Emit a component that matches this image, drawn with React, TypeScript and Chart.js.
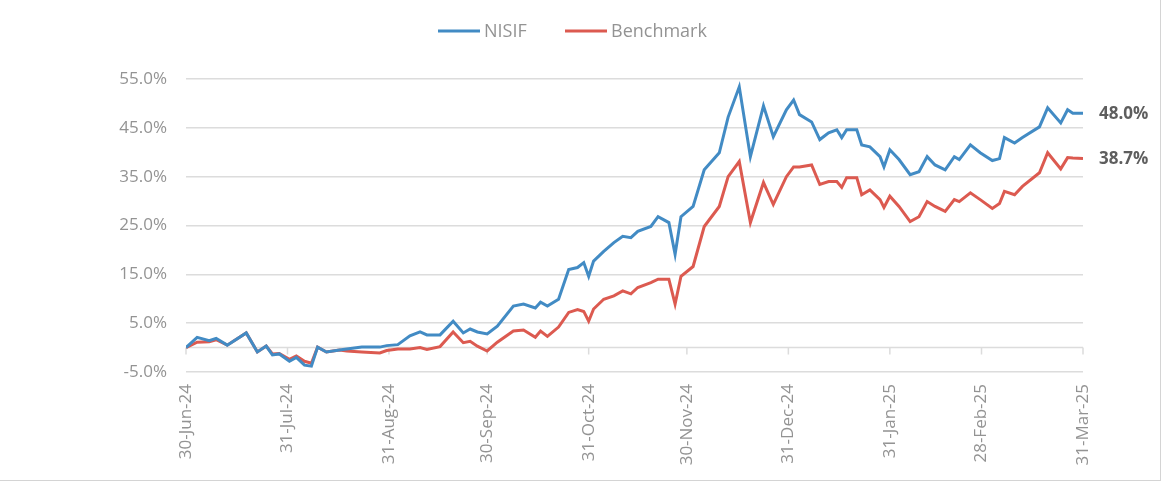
import React, { useEffect, useRef } from 'react';
import { Chart, registerables } from 'chart.js';

Chart.register(...registerables);

// ---- Data ----
const seriesNames = ['NISIF', 'Benchmark'];
const seriesColors = ['#428bc4', '#dc5a50'];

// x = days since 30-Jun-24
const tickDays = [0, 31, 62, 92, 123, 153, 184, 215, 243, 274];
const tickLabels = ['30-Jun-24', '31-Jul-24', '31-Aug-24', '30-Sep-24', '31-Oct-24', '30-Nov-24', '31-Dec-24', '31-Jan-25', '28-Feb-25', '31-Mar-25'];
const yTicks = [-5, 5, 15, 25, 35, 45, 55];

const days = [
  0, 3.4, 7.1, 9.2, 12.6, 18.4, 21.8, 24.5, 26.4, 28.5, 31.6, 33.7, 36.2, 38.3, 40.2, 42.9, 46.9, 49.1,
  53.7, 59.2, 61.3, 64.7, 68.4, 71.5, 73.6, 77.6, 81.6, 84.7, 86.8, 89.0, 92.0, 95.1, 100.0, 103.1,
  106.7, 108.3, 110.4, 113.8, 116.9, 119.6, 121.5, 123.0, 124.5, 127.6, 130.7, 133.4, 135.9, 138.0,
  142.0, 144.2, 147.5, 149.4, 151.2, 154.9, 158.3, 162.9, 165.6, 169.0, 172.4, 176.4, 179.4, 183.4,
  185.6, 187.4, 191.1, 193.6, 196.3, 198.8, 200.3, 201.8, 204.9, 206.4, 208.9, 212.0, 213.2, 215.0,
  217.8, 221.2, 223.9, 226.4, 228.8, 231.9, 234.7, 236.2, 239.6, 242.6, 246.3, 248.5, 250.0, 253.1,
  255.5, 260.7, 263.2, 267.2, 269.3, 270.9, 274,
];

const nisif = [
  0, 2.1, 1.4, 1.9, 0.5, 3.0, -0.9, 0.3, -1.5, -1.3, -2.8, -2.0, -3.6, -3.8, 0.1, -0.9, -0.5, -0.3,
  0.1, 0.1, 0.4, 0.6, 2.4, 3.2, 2.6, 2.6, 5.4, 3.0, 3.8, 3.2, 2.8, 4.4, 8.5, 8.9,
  8.1, 9.3, 8.5, 9.9, 16.0, 16.4, 17.4, 14.6, 17.7, 19.7, 21.5, 22.8, 22.5, 23.8,
  24.8, 26.8, 25.6, 19.1, 26.8, 28.9, 36.4, 39.9, 47.2, 53.4, 39.1, 49.5, 43.2, 48.7,
  50.7, 47.7, 46.2, 42.6, 44.0, 44.6, 43.0, 44.6, 44.6, 41.5, 41.1, 39.1, 37.0, 40.5,
  38.5, 35.4, 36.0, 39.1, 37.4, 36.4, 39.1, 38.5, 41.5, 39.9, 38.3, 38.7, 43.0, 41.9,
  43.0, 45.2, 49.1, 46.0, 48.7, 48.0, 48.0,
];

const benchmark = [
  0, 1.1, 1.2, 1.6, 0.5, 3.0, -0.9, 0.3, -1.3, -1.2, -2.4, -1.7, -2.8, -3.2, 0.1, -0.9, -0.5, -0.7,
  -0.9, -1.1, -0.6, -0.3, -0.3, 0.0, -0.4, 0.2, 3.2, 1.0, 1.3, 0.3, -0.7, 1.1, 3.4, 3.6,
  2.1, 3.4, 2.3, 4.2, 7.2, 7.8, 7.4, 5.4, 7.9, 9.9, 10.6, 11.6, 11.0, 12.3,
  13.3, 14.0, 14.0, 8.9, 14.6, 16.6, 24.8, 28.9, 35.0, 38.1, 25.6, 33.8, 29.3, 35.0,
  37.0, 37.0, 37.4, 33.4, 34.0, 34.0, 32.8, 34.8, 34.8, 31.3, 32.3, 30.3, 28.7, 31.0,
  28.9, 25.8, 26.8, 29.9, 28.9, 27.9, 30.3, 29.9, 31.7, 30.3, 28.5, 29.5, 32.0, 31.3,
  33.0, 35.8, 39.9, 36.6, 38.9, 38.8, 38.7,
];

const FONT = "'Open Sans', sans-serif";
const GRID = '#dcdcdc';
const TEXT = '#939393';

const customLegend = {
  id: 'customLegend',
  afterDraw(chart: any) {
    const ctx = chart.ctx;
    ctx.save();
    ctx.font = `18px ${FONT}`;
    ctx.textBaseline = 'middle';
    const lineW = 42;
    const gap = 4;
    const starts = [438, 565];
    const y = 31;
    seriesNames.forEach((n, i) => {
      const x = starts[i];
      ctx.strokeStyle = seriesColors[i];
      ctx.lineWidth = 3;
      ctx.beginPath();
      ctx.moveTo(x, y);
      ctx.lineTo(x + lineW, y);
      ctx.stroke();
      ctx.fillStyle = TEXT;
      ctx.textAlign = 'left';
      ctx.fillText(n, x + lineW + gap, y + 1);
    });
    ctx.restore();
  },
};

const zeroLine = {
  id: 'zeroLine',
  beforeDatasetsDraw(chart: any) {
    const ctx = chart.ctx;
    const xs = chart.scales.x;
    const ys = chart.scales.y;
    const y0 = ys.getPixelForValue(0);
    ctx.save();
    ctx.strokeStyle = GRID;
    ctx.lineWidth = 1.5;
    ctx.beginPath();
    ctx.moveTo(chart.chartArea.left, y0);
    ctx.lineTo(chart.chartArea.right, y0);
    tickDays.forEach((d) => {
      const px = xs.getPixelForValue(d);
      ctx.moveTo(px, y0);
      ctx.lineTo(px, y0 + 7);
    });
    ctx.stroke();
    ctx.restore();
  },
};

const endLabels = {
  id: 'endLabels',
  afterDatasetsDraw(chart: any) {
    const ctx = chart.ctx;
    ctx.save();
    ctx.font = `bold 17px ${FONT}`;
    ctx.fillStyle = '#5e5e5e';
    ctx.textAlign = 'left';
    ctx.textBaseline = 'middle';
    chart.data.datasets.forEach((ds: any, i: number) => {
      const meta = chart.getDatasetMeta(i);
      const pt = meta.data[meta.data.length - 1];
      const last = ds.data[ds.data.length - 1];
      ctx.fillText(last.y.toFixed(1) + '%', pt.x + 16, pt.y + 1);
    });
    ctx.restore();
  },
};

export default function App() {
  const ref = useRef<HTMLCanvasElement | null>(null);

  useEffect(() => {
    if (!ref.current) return;
    const mk = (vals: number[]) => days.map((d, i) => ({ x: d, y: vals[i] }));
    const chart = new Chart(ref.current, {
      type: 'line',
      data: {
        datasets: [
          { label: seriesNames[0], data: mk(nisif), borderColor: seriesColors[0], backgroundColor: seriesColors[0], borderWidth: 3, pointRadius: 0, tension: 0 },
          { label: seriesNames[1], data: mk(benchmark), borderColor: seriesColors[1], backgroundColor: seriesColors[1], borderWidth: 3, pointRadius: 0, tension: 0 },
        ],
      },
      options: {
        responsive: false,
        animation: false,
        devicePixelRatio: 1,
        layout: { padding: { top: 79, right: 82, left: 0, bottom: 0 } },
        plugins: { legend: { display: false }, tooltip: { enabled: false } },
        scales: {
          x: {
            type: 'linear',
            min: 0,
            max: 274,
            afterBuildTicks: (s: any) => { s.ticks = tickDays.map((v) => ({ value: v })); },
            afterFit: (s: any) => { s.height = 114; },
            grid: { display: false, drawTicks: false },
            border: { display: false },
            ticks: {
              autoSkip: false,
              minRotation: 90,
              maxRotation: 90,
              padding: 12,
              color: TEXT,
              font: { family: FONT, size: 17 },
              callback: (_v: any, i: number) => tickLabels[i],
            },
          },
          y: {
            min: -5,
            max: 55,
            afterBuildTicks: (s: any) => { s.ticks = yTicks.map((v) => ({ value: v })); },
            afterFit: (s: any) => { s.width = 186; },
            grid: { color: GRID, lineWidth: 1.5, drawTicks: false },
            border: { display: false },
            ticks: {
              padding: 19,
              color: TEXT,
              font: { family: FONT, size: 17 },
              callback: (v: any) => Number(v).toFixed(1) + '%',
            },
          },
        },
      },
      plugins: [zeroLine, endLabels, customLegend],
    } as any);
    return () => chart.destroy();
  }, []);

  return (
    <div style={{ position: 'absolute', left: 0, top: 0, width: 1165, height: 486, background: '#fff' }}>
      <canvas ref={ref} width={1165} height={486} style={{ display: 'block' }} />
      <div style={{ position: 'absolute', left: 0, top: 0, width: 1160, height: 480, borderRight: '1px solid #d4d4d4', borderBottom: '1px solid #d4d4d4', pointerEvents: 'none' }} />
    </div>
  );
}
